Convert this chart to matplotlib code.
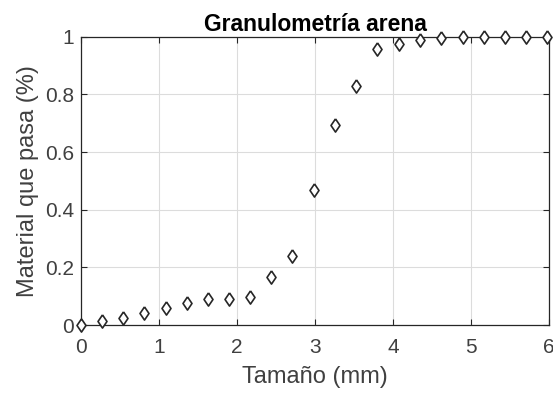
import matplotlib
matplotlib.use('Agg')
import matplotlib.pyplot as plt

plt.rcParams['font.family'] = ['Liberation Sans', 'DejaVu Sans']

# tamaños de tamiz (mm) y fraccion que pasa
tamano = [0, 0.27, 0.54, 0.81, 1.09, 1.36, 1.63, 1.90, 2.17, 2.44, 2.71, 2.99,
          3.26, 3.53, 3.80, 4.07, 4.34, 4.61, 4.89, 5.16, 5.43, 5.70, 5.97]
pasa = [0.0, 0.013, 0.026, 0.041, 0.058, 0.075, 0.09, 0.09, 0.096, 0.167, 0.24,
        0.468, 0.695, 0.829, 0.957, 0.974, 0.989, 0.997, 1.0, 1.0, 1.0, 1.0, 1.0]

# diamante estilo matlab (mas alto que ancho)
rombo = [(0, 1), (0.68, 0), (0, -1), (-0.68, 0), (0, 1)]

fig = plt.figure(figsize=(5.53, 3.96), dpi=100)
ax = fig.add_axes([0.1465, 0.179, 0.8465, 0.728])

ax.plot(tamano, pasa, linestyle='none', marker=rombo, markersize=9.5,
        markerfacecolor='white', markeredgecolor='#262626', markeredgewidth=1.2,
        clip_on=False, zorder=5)

ax.set_xlim(0, 6)
ax.set_ylim(0, 1)
ax.set_xticks([0, 1, 2, 3, 4, 5, 6])
ax.set_yticks([0, 0.2, 0.4, 0.6, 0.8, 1])
ax.set_yticklabels(['0', '0.2', '0.4', '0.6', '0.8', '1'])
ax.grid(True, color='#dcdcdc', linewidth=0.8)
ax.set_axisbelow(True)
for s in ax.spines.values():
    s.set_color('#262626')
    s.set_linewidth(0.9)
ax.tick_params(direction='in', length=4, colors='#262626', labelcolor='#404040',
               labelsize=15, top=True, right=True)
ax.tick_params(axis='x', pad=9)
ax.tick_params(axis='y', pad=5)

ax.set_xlabel('Tamaño (mm)', fontsize=17, color='#404040', labelpad=7)
ax.set_ylabel('Material que pasa (%)', fontsize=17, color='#404040', labelpad=4)
ax.set_title('Granulometría arena', fontsize=16.5, fontweight='bold', pad=4)

fig.savefig('out.png', dpi=100)
